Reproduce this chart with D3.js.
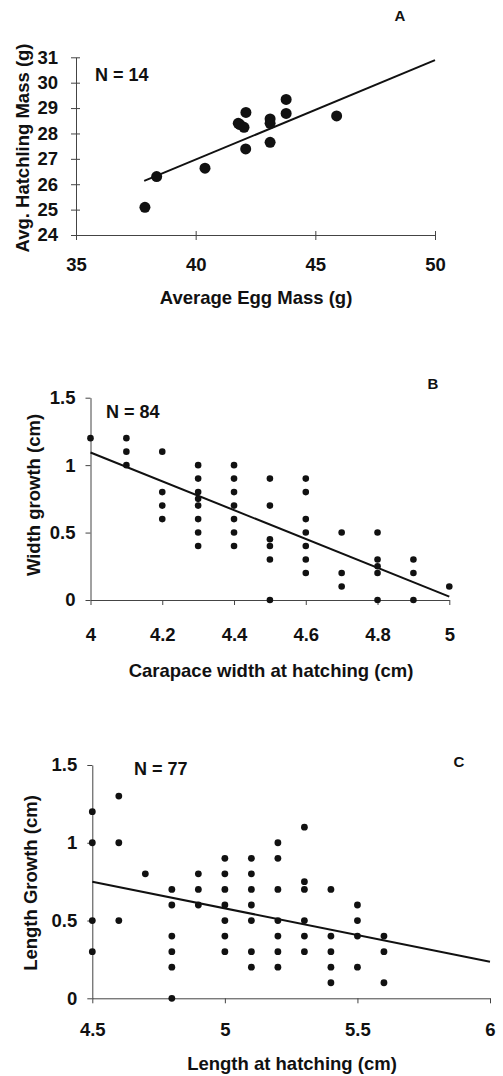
<!DOCTYPE html>
<html><head><meta charset="utf-8">
<script src="https://cdn.jsdelivr.net/npm/d3@7"></script>
<style>
body{margin:0;background:#fff;}
svg text{font-family:"Liberation Sans",Arial,sans-serif;font-weight:bold;fill:#111;}
</style></head><body>
<svg id="c" width="503" height="1076"></svg>
<script>
// Panel A data
const aEgg   = [37.88, 38.37, 40.39, 41.78, 41.85, 42.02, 42.10, 42.09, 43.11, 43.11, 43.11, 43.78, 43.78, 45.89];
const aHatch = [25.09, 26.30, 26.63, 28.40, 28.35, 28.24, 28.83, 27.39, 28.57, 28.40, 27.65, 29.34, 28.79, 28.69];
const aFitX = [37.85, 50];
const aFitY = [26.13, 30.89];
const aXTicks = [35, 40, 45, 50];
const aYTicks = [24, 25, 26, 27, 28, 29, 30, 31];

// Panel B data
const bWidth = [4.0,
  4.1,4.1,4.1,
  4.2,4.2,4.2,4.2,
  4.3,4.3,4.3,4.3,4.3,4.3,4.3,4.3,
  4.4,4.4,4.4,4.4,4.4,4.4,4.4,
  4.5,4.5,4.5,4.5,4.5,4.5,
  4.6,4.6,4.6,4.6,4.6,4.6,4.6,
  4.7,4.7,4.7,
  4.8,4.8,4.8,4.8,4.8,
  4.9,4.9,4.9,
  5.0];
const bGrowth = [1.2,
  1.2,1.1,1.0,
  1.1,0.8,0.7,0.6,
  1.0,0.9,0.8,0.75,0.7,0.6,0.5,0.4,
  1.0,0.9,0.8,0.7,0.6,0.5,0.4,
  0.9,0.7,0.45,0.4,0.3,0.0,
  0.9,0.8,0.6,0.5,0.4,0.3,0.2,
  0.5,0.2,0.1,
  0.5,0.3,0.25,0.2,0.0,
  0.3,0.2,0.0,
  0.1];
const bFitX = [4, 5];
const bFitY = [1.094, 0.025];
const bXTicks = [4, 4.2, 4.4, 4.6, 4.8, 5];
const bYTicks = [0, 0.5, 1, 1.5];

// Panel C data
const cLength = [4.5,4.5,4.5,4.5,
  4.6,4.6,4.6,
  4.7,
  4.8,4.8,4.8,4.8,4.8,4.8,
  4.9,4.9,4.9,
  5.0,5.0,5.0,5.0,5.0,5.0,5.0,
  5.1,5.1,5.1,5.1,5.1,5.1,5.1,
  5.2,5.2,5.2,5.2,5.2,5.2,5.2,
  5.3,5.3,5.3,5.3,5.3,5.3,
  5.4,5.4,5.4,5.4,5.4,
  5.5,5.5,5.5,5.5,
  5.6,5.6,5.6];
const cGrowth = [1.2,1.0,0.5,0.3,
  1.3,1.0,0.5,
  0.8,
  0.7,0.6,0.4,0.3,0.2,0.0,
  0.8,0.7,0.6,
  0.9,0.8,0.7,0.6,0.5,0.4,0.3,
  0.9,0.8,0.7,0.6,0.5,0.3,0.2,
  1.0,0.9,0.7,0.5,0.4,0.3,0.2,
  1.1,0.75,0.7,0.5,0.4,0.3,
  0.7,0.4,0.3,0.2,0.1,
  0.6,0.5,0.4,0.2,
  0.4,0.3,0.1];
const cFitX = [4.5, 6];
const cFitY = [0.75, 0.235];
const cXTicks = [4.5, 5, 5.5, 6];
const cYTicks = [0, 0.5, 1, 1.5];

const svg = d3.select("#c");
const FS = 18.5;

function panel(cfg){
  const g = svg.append("g");
  const x = d3.scaleLinear().domain(cfg.xDomain).range(cfg.xRange);
  const y = d3.scaleLinear().domain(cfg.yDomain).range(cfg.yRange);
  const yAx = g.append("g").attr("transform",`translate(${cfg.xRange[0]},0)`)
    .call(d3.axisLeft(y).tickValues(cfg.yTicks).tickSize(5).tickSizeOuter(0).tickPadding(cfg.yPad).tickFormat(d3.format("")));
  const xAx = g.append("g").attr("transform",`translate(0,${cfg.yRange[0]})`)
    .call(d3.axisBottom(x).tickValues(cfg.xTicks).tickSize(5).tickSizeOuter(0).tickPadding(cfg.xPad).tickFormat(d3.format("")));
  [yAx,xAx].forEach(a=>{
    a.select(".domain").attr("stroke","#444").attr("stroke-width",1);
    a.selectAll(".tick line").attr("stroke","#444").attr("stroke-width",1);
    a.selectAll(".tick text").style("font-size",FS+"px").attr("fill","#111");
  });
  if(cfg.cross){
    yAx.selectAll(".tick line").attr("x1",4);
    xAx.selectAll(".tick line").attr("y1",-4);
  }
  // fit line
  g.append("line")
    .attr("x1",x(cfg.fitX[0])).attr("y1",y(cfg.fitY[0]))
    .attr("x2",x(cfg.fitX[1])).attr("y2",y(cfg.fitY[1]))
    .attr("stroke","#111").attr("stroke-width",2);
  g.selectAll("circle.pt").data(cfg.xs.map((v,i)=>[v,cfg.ys[i]])).join("circle")
    .attr("class","pt").attr("cx",d=>x(d[0])).attr("cy",d=>y(d[1])).attr("r",cfg.r).attr("fill","#111");
  // texts
  g.append("text").attr("x",cfg.xTitle[0]).attr("y",cfg.xTitle[1]).attr("text-anchor","middle")
    .style("font-size","18.5px").text(cfg.xLabel);
  g.append("text").attr("transform",`translate(${cfg.yTitle[0]},${cfg.yTitle[1]}) rotate(-90)`).attr("text-anchor","middle")
    .style("font-size","18.5px").text(cfg.yLabel);
  g.append("text").attr("x",cfg.nPos[0]).attr("y",cfg.nPos[1]).style("font-size","18px").text(cfg.nText);
  g.append("text").attr("x",cfg.letterPos[0]).attr("y",cfg.letterPos[1]).attr("text-anchor","middle")
    .style("font-size","15px").text(cfg.letter);
}

panel({xDomain:[35,50], xRange:[76,435], yDomain:[24,31], yRange:[235,57.3],
  xTicks:aXTicks, yTicks:aYTicks, yPad:13, xPad:18, cross:true,
  fitX:aFitX, fitY:aFitY, xs:aEgg, ys:aHatch, r:5.5,
  xLabel:"Average Egg Mass (g)", xTitle:[256,304],
  yLabel:"Avg. Hatchling Mass (g)", yTitle:[29,148],
  nText:"N = 14", nPos:[95,81], letter:"A", letterPos:[400,21]});

panel({xDomain:[4,5], xRange:[90.5,449.3], yDomain:[0,1.5], yRange:[600,397.7],
  xTicks:bXTicks, yTicks:bYTicks, yPad:10, xPad:23, cross:false,
  fitX:bFitX, fitY:bFitY, xs:bWidth, ys:bGrowth, r:3.3,
  xLabel:"Carapace width at hatching (cm)", xTitle:[271,677],
  yLabel:"Width growth (cm)", yTitle:[40,495],
  nText:"N = 84", nPos:[106,418], letter:"B", letterPos:[433,389]});

panel({xDomain:[4.5,6], xRange:[92.3,490], yDomain:[0,1.5], yRange:[998.3,765],
  xTicks:cXTicks, yTicks:cYTicks, yPad:10, xPad:20, cross:false,
  fitX:cFitX, fitY:cFitY, xs:cLength, ys:cGrowth, r:3.4,
  xLabel:"Length at hatching (cm)", xTitle:[292,1070],
  yLabel:"Length Growth (cm)", yTitle:[37,883],
  nText:"N = 77", nPos:[134,775], letter:"C", letterPos:[459,767]});
</script>
</body></html>
